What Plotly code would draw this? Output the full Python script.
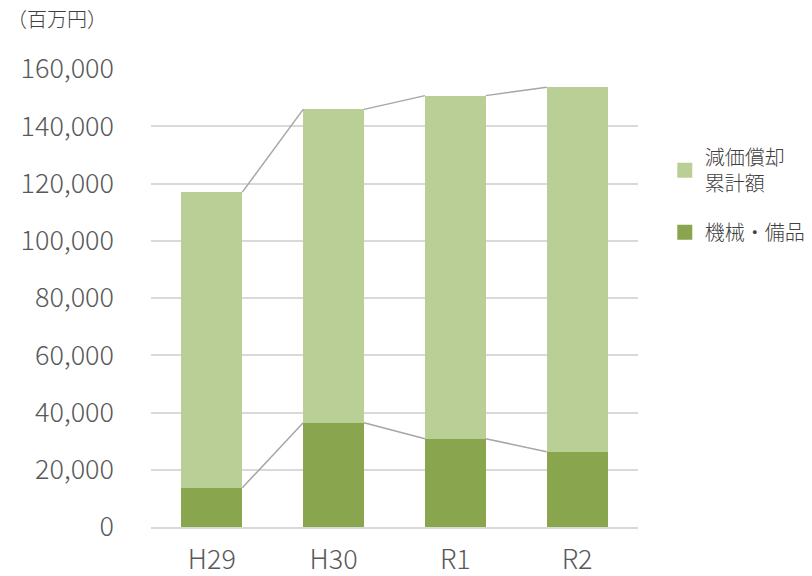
import plotly.graph_objects as go

# Fiscal years
categories = ["H29", "H30", "R1", "R2"]
# 機械・備品 (百万円)
equipment = [13700, 36400, 30850, 26300]
# 減価償却累計額 (百万円), stacked on top
depreciation = [103300, 109500, 119850, 127300]

y_ticks = [0, 20000, 40000, 60000, 80000, 100000, 120000, 140000, 160000]

COLOR_DARK = "#89a54e"
COLOR_LIGHT = "#bacf96"
COLOR_SERIES_LINE = "#a6a6a6"
FONT = "Noto Sans CJK JP, Noto Sans, sans-serif"
BAR_W = 0.5

x = list(range(len(categories)))
totals = [a + b for a, b in zip(equipment, depreciation)]

fig = go.Figure()
fig.add_trace(go.Bar(
    x=x, y=equipment, width=BAR_W, name="機械・備品",
    marker=dict(color=COLOR_DARK, line=dict(width=0)),
    showlegend=False,
))
fig.add_trace(go.Bar(
    x=x, y=depreciation, width=BAR_W, name="減価償却累計額",
    marker=dict(color=COLOR_LIGHT, line=dict(width=0)),
    showlegend=False,
))

# Series lines linking the tops of each stacked segment between neighbouring bars
for tops in (equipment, totals):
    for i in range(len(categories) - 1):
        fig.add_trace(go.Scatter(
            x=[x[i] + BAR_W / 2, x[i + 1] - BAR_W / 2],
            y=[tops[i], tops[i + 1]],
            mode="lines",
            line=dict(color=COLOR_SERIES_LINE, width=1.5),
            showlegend=False, hoverinfo="skip",
        ))

# Legend entries with larger square swatches
for name, color, rank in (("減価償却<br>累計額", COLOR_LIGHT, 1), ("機械・備品", COLOR_DARK, 2)):
    fig.add_trace(go.Scatter(
        x=[None], y=[None], mode="markers", name=name,
        marker=dict(symbol="square", size=15, color=color),
        legendgroup=name, legendrank=rank, hoverinfo="skip",
    ))

fig.update_layout(
    barmode="stack",
    width=812, height=576,
    margin=dict(l=151, r=174, t=69, b=49, autoexpand=False),
    plot_bgcolor="white", paper_bgcolor="white",
    font=dict(family=FONT, color="#595959", weight=300),
    showlegend=True,
    legend=dict(
        x=1.055, y=0.85, xanchor="left", yanchor="top",
        traceorder="grouped", tracegroupgap=20,
        font=dict(size=20, color="#404040"),
        itemsizing="trace", itemwidth=30,
    ),
    xaxis=dict(
        tickmode="array", tickvals=x, ticktext=categories,
        range=[-0.5, len(categories) - 0.5],
        showgrid=False, zeroline=False,
        showline=True, linecolor="#d9d9d9", linewidth=1.5,
        ticks="", tickfont=dict(size=27, color="#595959", weight=300),
        ticklabelstandoff=8,
    ),
    yaxis=dict(
        range=[0, 160000],
        tickmode="array", tickvals=y_ticks,
        ticktext=[f"{v:,}" for v in y_ticks],
        showgrid=True, gridcolor="#d9d9d9", gridwidth=1.5,
        zeroline=False, showline=False, ticks="",
        tickfont=dict(size=27, color="#595959", weight=300),
        ticklabelstandoff=36,
    ),
    annotations=[dict(
        text="（百万円）", xref="paper", yref="paper",
        x=-0.3, y=1.11, xanchor="left", yanchor="middle",
        showarrow=False, font=dict(size=20, color="#404040"),
    )],
)

fig.write_html("out.html")
